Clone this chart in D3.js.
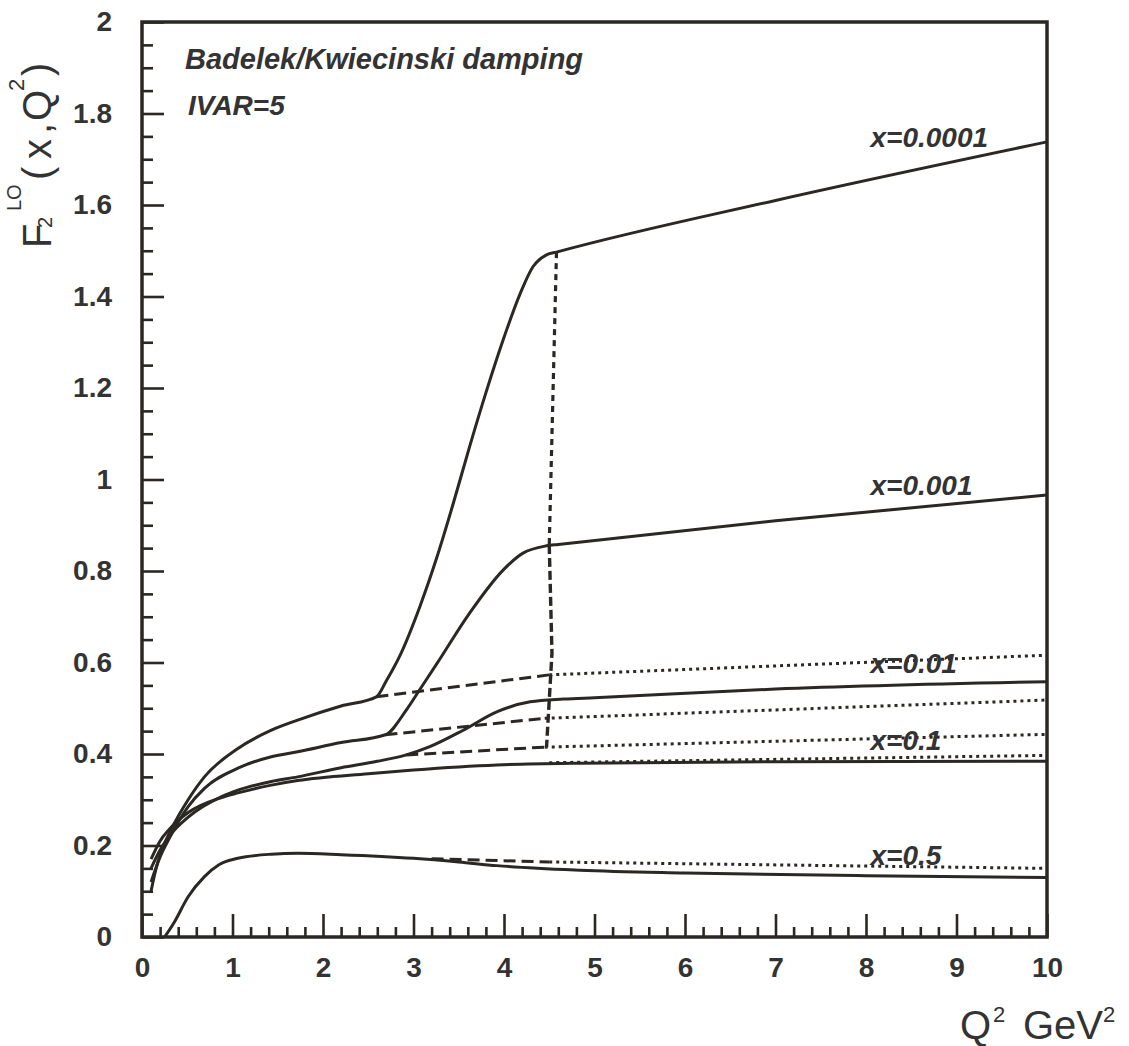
<!DOCTYPE html>
<html>
<head>
<meta charset="utf-8">
<script src="https://cdn.jsdelivr.net/npm/d3@7"></script>
<style>
  html, body { margin: 0; padding: 0; background: #ffffff; }
  svg { display: block; }
</style>
</head>
<body>
<svg id="chart" width="1129" height="1046"></svg>
<script>
// ---------------- data ----------------
const xTicks = [0, 1, 2, 3, 4, 5, 6, 7, 8, 9, 10];
const yTicks = [0, 0.2, 0.4, 0.6, 0.8, 1, 1.2, 1.4, 1.6, 1.8, 2];
const yTickLabels = ["0", "0.2", "0.4", "0.6", "0.8", "1", "1.2", "1.4", "1.6", "1.8", "2"];

const seriesLabels = ["x=0.0001", "x=0.001", "x=0.01", "x=0.1", "x=0.5"];
const labelValues = [1.727, 0.966, 0.577, 0.409, 0.157]; // label baselines (F2 units)
const labelQ2 = 8.05;

// solid curves
const solid_x00001 = [[0.1,0.10],[0.15,0.145],[0.2,0.18],[0.32,0.234],[0.51,0.30],[0.69,0.35],[1.06,0.412],[1.43,0.452],[1.72,0.474],[2.2,0.505],[2.59,0.525],[2.7,0.56],[2.85,0.615],[3.07,0.722],[3.26,0.831],[3.44,0.948],[3.62,1.072],[3.81,1.196],[3.99,1.305],[4.18,1.407],[4.32,1.465],[4.47,1.491],[4.58,1.497],[7,1.61],[10,1.738]];
const solid_x0001 = [[0.1,0.12],[0.2,0.175],[0.3,0.215],[0.51,0.285],[0.69,0.325],[1.06,0.369],[1.43,0.394],[1.72,0.405],[2.2,0.425],[2.69,0.442],[2.92,0.496],[3.07,0.541],[3.26,0.598],[3.62,0.708],[3.99,0.802],[4.21,0.839],[4.47,0.855],[4.6,0.858],[7,0.91],[10,0.966]];
const solid_x001 = [[0.1,0.15],[0.2,0.19],[0.3,0.22],[0.51,0.262],[0.88,0.307],[1.06,0.321],[1.43,0.34],[1.72,0.35],[2.2,0.37],[2.6,0.384],[2.92,0.398],[3.18,0.416],[3.55,0.452],[3.92,0.492],[4.29,0.514],[4.66,0.520],[5,0.523],[7,0.542],[10,0.558]];
const solid_x01 = [[0.1,0.17],[0.2,0.21],[0.3,0.235],[0.51,0.272],[0.88,0.305],[1.06,0.315],[1.43,0.332],[1.72,0.342],[2.5,0.357],[3,0.365],[3.92,0.376],[4.84,0.38],[7,0.383],[10,0.384]];
const solid_x05 = [[0.25,0.0],[0.35,0.03],[0.51,0.088],[0.69,0.132],[0.85,0.158],[1.06,0.172],[1.43,0.181],[1.72,0.183],[2.2,0.18],[3.0,0.172],[3.5,0.164],[3.92,0.156],[4.84,0.146],[6,0.14],[8,0.134],[10,0.13]];

// dashed continuations (kink -> threshold)
const dash_x00001 = [[2.59,0.525],[4.5,0.573]];
const dash_x0001  = [[2.69,0.442],[4.45,0.478]];
const dash_x001   = [[2.92,0.398],[4.45,0.415]];
const dash_x05    = [[3.2,0.171],[4.5,0.164]];

// dotted continuations (threshold -> 10)
const dot_x00001 = [[4.5,0.573],[10,0.616]];
const dot_x0001  = [[4.45,0.478],[10,0.518]];
const dot_x001   = [[4.45,0.415],[10,0.443]];
const dot_x01    = [[4.5,0.381],[10,0.397]];
const dot_x05    = [[4.5,0.164],[10,0.150]];

// threshold connector
const thresh_dot  = [[4.58,1.497],[4.5,0.857]];
const thresh_dash = [[4.5,0.857],[4.53,0.62],[4.47,0.415]];

// ---------------- drawing ----------------
const svg = d3.select("#chart");
const ink = "#2b2723";
const font = "'Liberation Sans', Arial, Helvetica, sans-serif";

const x = d3.scaleLinear().domain([0, 10]).range([142, 1047]);
const y = d3.scaleLinear().domain([0, 2]).range([937, 22]);

const plot = svg.append("g");

// minor ticks
const xMinor = d3.range(0, 10.001, 0.2).filter(v => Math.abs(v - Math.round(v)) > 1e-6);
const yMinor = d3.range(0, 2.001, 0.05).filter(v => Math.abs(v*5 - Math.round(v*5)) > 1e-6);

const axB_minor = d3.axisBottom(x).tickValues(xMinor).tickSize(-10).tickFormat("");
const axL_minor = d3.axisLeft(y).tickValues(yMinor).tickSize(-11).tickFormat("");
const axB = d3.axisBottom(x).tickValues(xTicks).tickSize(-23).tickPadding(20).tickFormat(d => String(d));
const axL = d3.axisLeft(y).tickValues(yTicks).tickSize(-22).tickPadding(30).tickFormat((d, i) => yTickLabels[i]);

function styleAxis(g) {
  g.select(".domain").remove();
  g.selectAll(".tick line").attr("stroke", ink).attr("stroke-width", 2.6);
  g.selectAll(".tick text").attr("fill", "#333").attr("font-family", font)
    .attr("font-weight", "bold").attr("font-size", 28);
}

plot.append("g").attr("transform", "translate(0,937)").call(axB_minor).call(styleAxis);
plot.append("g").attr("transform", "translate(142,0)").call(axL_minor).call(styleAxis);
plot.append("g").attr("transform", "translate(0,937)").call(axB).call(styleAxis);
plot.append("g").attr("transform", "translate(142,0)").call(axL).call(styleAxis);

// curves
const smooth = d3.line().x(d => x(d[0])).y(d => y(d[1])).curve(d3.curveMonotoneX);
const straight = d3.line().x(d => x(d[0])).y(d => y(d[1]));

const solids = [solid_x00001, solid_x0001, solid_x001, solid_x01, solid_x05];
solids.forEach(s => {
  plot.append("path").attr("d", smooth(s)).attr("fill", "none")
    .attr("stroke", ink).attr("stroke-width", 3).attr("stroke-linejoin", "round");
});

[dash_x00001, dash_x0001, dash_x001, dash_x05].forEach(s => {
  plot.append("path").attr("d", straight(s)).attr("fill", "none")
    .attr("stroke", ink).attr("stroke-width", 3).attr("stroke-dasharray", "12,6");
});

[dot_x00001, dot_x0001, dot_x001, dot_x01, dot_x05].forEach(s => {
  plot.append("path").attr("d", straight(s)).attr("fill", "none")
    .attr("stroke", ink).attr("stroke-width", 3).attr("stroke-dasharray", "3,4");
});

plot.append("path").attr("d", straight(thresh_dot)).attr("fill", "none")
  .attr("stroke", ink).attr("stroke-width", 3.2).attr("stroke-dasharray", "6,5");
plot.append("path").attr("d", straight(thresh_dash)).attr("fill", "none")
  .attr("stroke", ink).attr("stroke-width", 3.4).attr("stroke-dasharray", "9,4");

// frame
plot.append("rect").attr("x", x(0)).attr("y", y(2))
  .attr("width", x(10) - x(0)).attr("height", y(0) - y(2))
  .attr("fill", "none").attr("stroke", ink).attr("stroke-width", 3.5);

// series labels
seriesLabels.forEach((t, i) => {
  plot.append("text").attr("x", x(labelQ2)).attr("y", y(labelValues[i]))
    .attr("font-family", font).attr("font-weight", "bold").attr("font-style", "italic")
    .attr("font-size", 28).attr("fill", "#333").text(t);
});

// header texts
svg.append("text").attr("x", 185).attr("y", 69)
  .attr("font-family", font).attr("font-weight", "bold").attr("font-style", "italic")
  .attr("font-size", 29).attr("fill", "#333").text("Badelek/Kwiecinski damping");
svg.append("text").attr("x", 188).attr("y", 115)
  .attr("font-family", font).attr("font-weight", "bold").attr("font-style", "italic")
  .attr("font-size", 28).attr("fill", "#333").text("IVAR=5");

// x title
const xt = svg.append("text").attr("font-family", font).attr("fill", "#333").attr("font-size", 40);
xt.append("tspan").attr("x", 960).attr("y", 1039).text("Q");
xt.append("tspan").attr("x", 993).attr("y", 1022).attr("font-size", 22).text("2");
xt.append("tspan").attr("x", 1023).attr("y", 1039).text("GeV");
xt.append("tspan").attr("x", 1103).attr("y", 1022).attr("font-size", 22).text("2");

// y title (rotated)
const yt = svg.append("text").attr("transform", "rotate(-90)")
  .attr("font-family", font).attr("fill", "#333").attr("font-size", 40);
yt.append("tspan").attr("x", -248).attr("y", 51).text("F");
yt.append("tspan").attr("x", -228).attr("y", 52).attr("font-size", 20).text("2");
yt.append("tspan").attr("x", -211).attr("y", 21).attr("font-size", 20).text("LO");
yt.append("tspan").attr("x", -180).attr("y", 51).text("(");
yt.append("tspan").attr("x", -159).attr("y", 51).text("x");
yt.append("tspan").attr("x", -134).attr("y", 51).text(",");
yt.append("tspan").attr("x", -121).attr("y", 51).text("Q");
yt.append("tspan").attr("x", -91).attr("y", 24).attr("font-size", 22).text("2");
yt.append("tspan").attr("x", -76).attr("y", 51).text(")");
</script>
</body>
</html>
